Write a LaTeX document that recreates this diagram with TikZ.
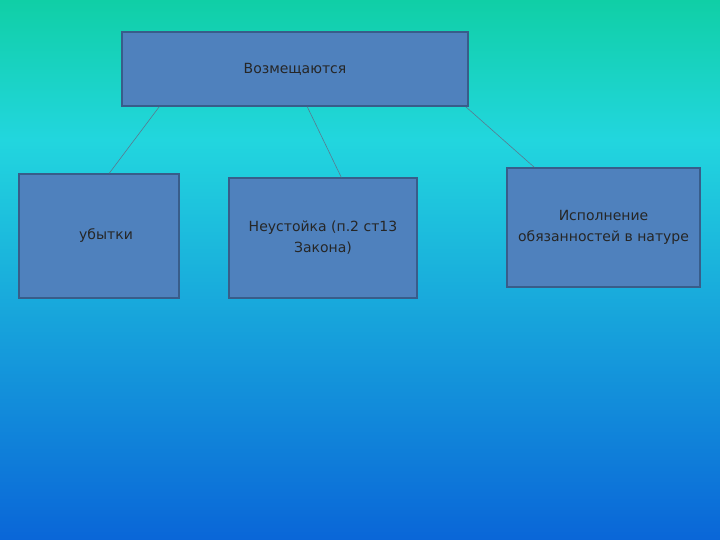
\documentclass[tikz,border=0pt]{standalone}
\usepackage{fontspec}
\setmainfont{DejaVu Sans}
\usetikzlibrary{calc}
\definecolor{bgA}{HTML}{10CFA6}
\definecolor{bgB}{HTML}{22D6DE}
\definecolor{bgC}{HTML}{0A66D8}
\definecolor{boxfill}{HTML}{4F81BD}
\definecolor{boxline}{HTML}{385D8A}
\definecolor{conn}{HTML}{5A7A90}
\begin{document}
\begin{tikzpicture}[x=1pt,y=1pt,
  box/.style={draw=boxline,line width=1.5pt,fill=boxfill,align=center,font=\fontsize{14}{21}\selectfont,text=black!85,inner sep=0pt},
  link/.style={draw=conn,line width=0.6pt}]
\useasboundingbox (0,0) rectangle (720,-540);
\shade[top color=bgA,bottom color=bgB] (0,0) rectangle (720,-140);
\shade[top color=bgB,bottom color=bgC] (0,-140) rectangle (720,-540);
\node[box,minimum width=346,minimum height=74] (top) at (295,-69) {Возмещаются};
\node[box,minimum width=160,minimum height=124] (a) at (99,-236) {\hspace*{14pt}убытки};
\node[box,minimum width=188,minimum height=120] (b) at (323,-238) {Неустойка (п.2 ст13\\Закона)};
\node[box,minimum width=193,minimum height=119] (c) at (603.5,-227.5) {Исполнение\\обязанностей в натуре};
\draw[link] ($(top.south west)+(38,0)$) -- ($(a.north west)+(91,0)$);
\draw[link] ($(top.south west)+(186,0)$) -- ($(b.north west)+(113,0)$);
\draw[link] ($(top.south east)+(-3,0)$) -- ($(c.north west)+(28,0)$);
\end{tikzpicture}
\end{document}
